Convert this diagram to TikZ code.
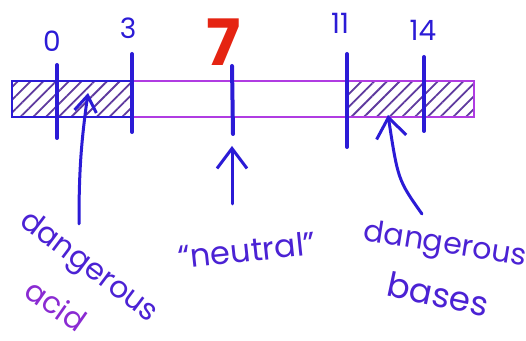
\documentclass[tikz,border=0pt]{standalone}
\usepackage{fontspec}
\setmainfont{Poppins}
\usetikzlibrary{arrows.meta,patterns.meta}
\definecolor{ink}{HTML}{2B1BD6}
\definecolor{pen}{HTML}{4B22D4}
\definecolor{plum}{HTML}{8A2BD2}
\definecolor{lilac}{HTML}{B03CE2}
\definecolor{hatch}{HTML}{5E3A9E}
\definecolor{redpen}{HTML}{E52412}
\tikzset{
  tick/.style={draw=ink,line width=2pt,line cap=round},
  rim/.style={draw=lilac,line width=1pt},
  zone/.style={pattern={Lines[angle=45,distance=4.5pt,line width=0.9pt]},pattern color=hatch},
  num/.style={text=ink,font=\fontsize{14}{14}\selectfont,inner sep=0pt},
  word/.style={text=pen,font=\fontsize{15}{16}\selectfont,inner sep=0pt},
  arr/.style={-{Straight Barb[length=10pt,width=15pt,line width=1.5pt]},draw=ink,
    line width=1.5pt,line cap=round}
}
\begin{document}
\begin{tikzpicture}[x=0.5pt,y=-0.5pt]
  \useasboundingbox[fill=white] (0,0) rectangle (526,341);
  % scale bar
  \fill[zone] (12,81) rectangle (133,117);
  \fill[zone] (348,81) rectangle (474,117);
  \draw[rim] (133,81) -- (474,81) -- (474,117) -- (133,117);
  \draw[draw=ink,line width=1.4pt] (133,81) -- (12,81) -- (12,117) -- (133,117);
  % ticks and values
  \foreach \n/\x/\ya/\yb/\lx/\ly in {0/57/65/138/52/41,3/132/54/132/128/28,
    11/347/54/147/340/23,14/424/57/131/423/30}{
    \draw[tick] (\x,\ya) coordinate (t\n) -- (\x,\yb);
    \node[num] (v\n) at (\lx,\ly) {\n};
  }
  \draw[tick] (232,66) coordinate (t7) -- (233,134);
  \node[num,text=redpen,font=\bfseries\fontsize{32}{32}\selectfont] (v7) at (224,42) {7};
  % labels
  \node[word,rotate=-37] (dacid) at (88,268) {dangerous};
  \node[word,text=plum,rotate=-35] (acid) at (56,305) {acid};
  \node[word,font=\fontsize{16}{16}\selectfont,rotate=6] (neutral) at (247,250) {“neutral”};
  \node[word,rotate=-9] (dbase) at (445,246) {dangerous};
  \node[word,font=\fontsize{17}{17}\selectfont,rotate=-12] (bases) at (438,294) {bases};
  % pointers
  \coordinate (acidfoot) at (79,224);
  \coordinate (acidtip) at (88,93);
  \coordinate (neutfoot) at (232,204);
  \coordinate (neuttip) at (232,146);
  \coordinate (basefoot) at (422,214);
  \coordinate (basetip) at (388,115);
  \draw[arr,-{Straight Barb[length=8pt,width=11pt,line width=1.5pt]}] (acidfoot) to[bend left=4] (acidtip);
  \draw[arr] (neutfoot) -- (neuttip);
  \draw[arr] (basefoot) .. controls (398,180) .. (basetip);
\end{tikzpicture}
\end{document}
